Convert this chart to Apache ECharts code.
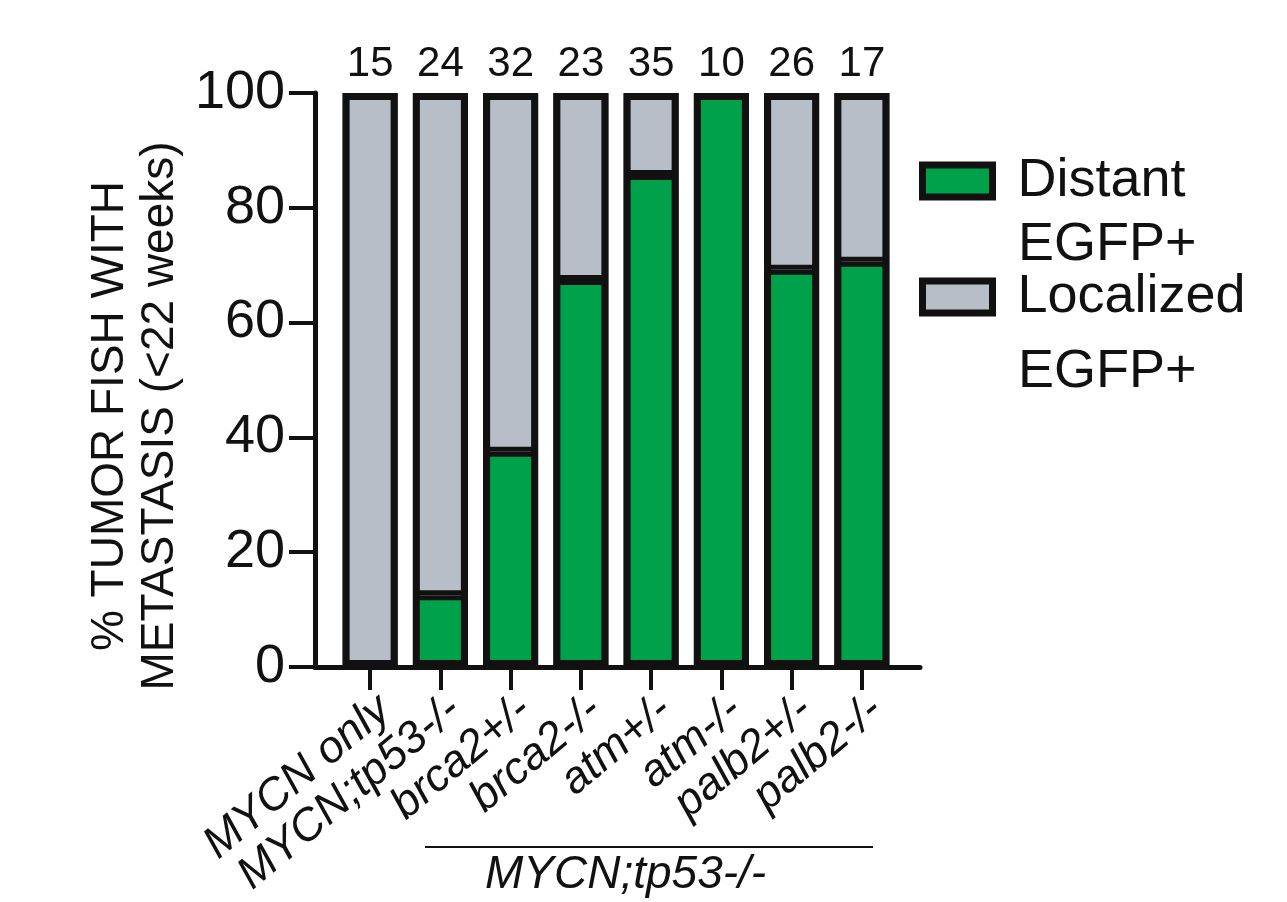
<!DOCTYPE html>
<html>
<head>
<meta charset="utf-8">
<script src="https://cdn.jsdelivr.net/npm/echarts@6/dist/echarts.min.js"></script>
<style>
html,body{margin:0;padding:0;background:#fff;}
#chart{width:1287px;height:902px;}
</style>
</head>
<body>
<div id="chart"></div>
<script>
var categories = ['MYCN only', 'MYCN;tp53-/-', 'brca2+/-', 'brca2-/-', 'atm+/-', 'atm-/-', 'palb2+/-', 'palb2-/-'];
var distant = [0, 12.5, 37.5, 67.4, 85.7, 100, 69.2, 70.6];
var localized = [100, 87.5, 62.5, 32.6, 14.3, 0, 30.8, 29.4];
var counts = [15, 24, 32, 23, 35, 10, 26, 17];
var yTicks = [0, 20, 40, 60, 80, 100];
var groupLabel = 'MYCN;tp53-/-';
var yTitle = ['% TUMOR FISH WITH', 'METASTASIS (<22 weeks)'];

var totals = distant.map(function (d, i) { return d + localized[i]; });
function noZeroBorder(arr) {
  return arr.map(function (v) { return v === 0 ? {value: v, itemStyle: {borderWidth: 0}} : v; });
}

var FONT = 'Liberation Sans, Arial, sans-serif';
var GREEN = '#00a14b', GREY = '#b8bec7', BLACK = '#111';
var chart = echarts.init(document.getElementById('chart'));

var option = {
  backgroundColor: '#fff',
  animation: false,
  grid: [
    {left: 335, top: 93, width: 562, height: 574},
    {left: 315, top: 93, width: 605, height: 574}
  ],
  xAxis: [
    {
      type: 'category', gridIndex: 0, data: categories,
      axisLine: {show: false},
      axisTick: {show: true, alignWithLabel: true, length: 23, lineStyle: {color: BLACK, width: 4}},
      axisLabel: {
        interval: 0, rotate: 40, margin: 20, fontFamily: FONT, fontSize: 45,
        fontStyle: 'italic', color: BLACK, verticalAlign: 'top'
      }
    },
    {
      type: 'value', gridIndex: 1, min: 0, max: 1,
      axisLine: {show: true, lineStyle: {color: BLACK, width: 5}},
      axisTick: {show: false}, axisLabel: {show: false}, splitLine: {show: false}
    }
  ],
  yAxis: [
    {
      type: 'value', gridIndex: 0, min: 0, max: 100, interval: 20,
      show: false, splitLine: {show: false}
    },
    {
      type: 'value', gridIndex: 1, min: 0, max: 100, interval: 20,
      axisLine: {show: true, lineStyle: {color: BLACK, width: 5}},
      axisTick: {show: true, length: 26, lineStyle: {color: BLACK, width: 4}},
      axisLabel: {fontFamily: FONT, fontSize: 54, color: BLACK, margin: 30,
        formatter: function (v) { return yTicks.indexOf(v) >= 0 ? String(v) : ''; }},
      splitLine: {show: false}
    }
  ],
  legend: [
    {
      left: 914, top: 148, orient: 'vertical', data: ['Distant EGFP+'],
      icon: 'rect', itemWidth: 70, itemHeight: 32,
      itemStyle: {borderColor: BLACK, borderWidth: 7},
      formatter: function (n) { return n.split(' ')[0]; },
      textStyle: {fontFamily: FONT, fontSize: 54, color: BLACK, lineHeight: 56, padding: [0, 0, 0, 20]},
      selectedMode: false
    },
    {
      left: 914, top: 264, orient: 'vertical', data: ['Localized EGFP+'],
      icon: 'rect', itemWidth: 70, itemHeight: 32,
      itemStyle: {borderColor: BLACK, borderWidth: 7},
      formatter: function (n) { return n.split(' ')[0]; },
      textStyle: {fontFamily: FONT, fontSize: 54, color: BLACK, lineHeight: 56, padding: [0, 0, 0, 20]},
      selectedMode: false
    }
  ],
  graphic: [
    {type: 'text', left: 1018, top: 218, style: {text: 'EGFP+', font: '54px ' + FONT, fill: BLACK}},
    {type: 'text', left: 1018, top: 345, style: {text: 'EGFP+', font: '54px ' + FONT, fill: BLACK}},
    {type: 'line', shape: {x1: 425, y1: 847, x2: 873, y2: 847}, style: {stroke: BLACK, lineWidth: 2}},
    {type: 'text', left: 485, top: 852, style: {text: groupLabel, font: 'italic 46px ' + FONT, fill: BLACK}},
    {type: 'text', x: 135, y: 416, rotation: Math.PI / 2,
      style: {text: yTitle.join('\n'), font: '46px ' + FONT, fill: BLACK, lineHeight: 50,
        align: 'center', verticalAlign: 'middle'}}
  ],
  series: [
    {
      name: 'Distant EGFP+', type: 'bar', stack: 'a', xAxisIndex: 0, yAxisIndex: 0,
      data: noZeroBorder(distant), barWidth: 55,
      itemStyle: {color: GREEN, borderColor: BLACK, borderWidth: 5}
    },
    {
      name: 'Localized EGFP+', type: 'bar', stack: 'a', xAxisIndex: 0, yAxisIndex: 0,
      data: noZeroBorder(localized), barWidth: 55,
      itemStyle: {color: GREY, borderColor: BLACK, borderWidth: 5}
    },
    {
      name: 'outline', type: 'bar', xAxisIndex: 0, yAxisIndex: 0,
      data: totals, barWidth: 55, barGap: '-100%', z: 5,
      itemStyle: {color: 'rgba(0,0,0,0)', borderColor: BLACK, borderWidth: 7},
      label: {
        show: true, position: 'top', distance: 8,
        fontFamily: FONT, fontSize: 42, color: BLACK,
        formatter: function (p) { return String(counts[p.dataIndex]); }
      },
      tooltip: {show: false}
    }
  ]
};
chart.setOption(option);
</script>
</body>
</html>
